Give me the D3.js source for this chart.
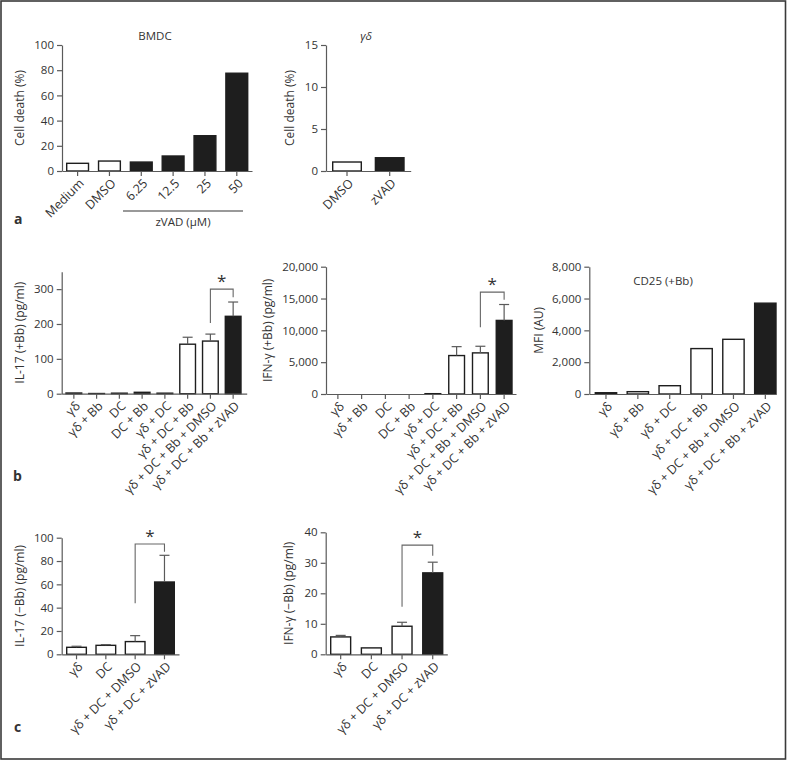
<!DOCTYPE html>
<html>
<head>
<meta charset="utf-8">
<script src="https://cdn.jsdelivr.net/npm/d3@7"></script>
<style>
  html, body { margin: 0; padding: 0; background: #fff; }
  svg { display: block; }
  text { font-family: "Open Sans", "Noto Sans", sans-serif; fill: #333; }
</style>
</head>
<body>
<svg id="chart" width="787" height="761"></svg>
<script>
// ---------------- DATA ----------------
// Panel a (left): BMDC cell death
const bmdcCategories = ["Medium", "DMSO", "6.25", "12.5", "25", "50"];
const bmdcValues = [6.1, 7.9, 7.1, 11.9, 28, 77.6];
const bmdcZvad = [false, false, true, true, true, true];
const bmdcTicks = [0, 20, 40, 60, 80, 100];

// Panel a (right): γδ cell death
const gdCategories = ["DMSO", "zVAD"];
const gdValues = [1.07, 1.58];
const gdZvad = [false, true];
const gdTicks = [0, 5, 10, 15];

// Panel b: +Bb stimulations
const bbCategories = ["γδ", "γδ + Bb", "DC", "DC + Bb", "γδ + DC", "γδ + DC + Bb",
  "γδ + DC + Bb + DMSO", "γδ + DC + Bb + zVAD"];
const bbZvad = [false, false, false, false, false, false, false, true];
const il17BbValues = [2, 0.5, 1.5, 4, 1.5, 142, 151, 222];
const il17BbErrors = [0, 0, 0, 0, 0, 20, 20, 41];
const il17BbTicks = [0, 100, 200, 300];
const ifngBbValues = [0, 0, 0, 0, 50, 6040, 6460, 11560];
const ifngBbErrors = [0, 0, 0, 0, 0, 1400, 1040, 2500];
const ifngBbTicks = [0, 5000, 10000, 15000, 20000];

const cd25Categories = ["γδ", "γδ + Bb", "γδ + DC", "γδ + DC + Bb",
  "γδ + DC + Bb + DMSO", "γδ + DC + Bb + zVAD"];
const cd25Values = [80, 146, 521, 2854, 3437, 5708];
const cd25Zvad = [false, false, false, false, false, true];
const cd25Ticks = [0, 2000, 4000, 6000, 8000];

// Panel c: −Bb stimulations
const noBbCategories = ["γδ", "DC", "γδ + DC + DMSO", "γδ + DC + zVAD"];
const noBbZvad = [false, false, false, true];
const il17NoBbValues = [6, 7.7, 10.9, 62];
const il17NoBbErrors = [0.9, 0.6, 5.1, 22.9];
const il17NoBbTicks = [0, 20, 40, 60, 80, 100];
const ifngNoBbValues = [5.7, 2.1, 9.2, 26.7];
const ifngNoBbErrors = [0.5, 0, 1.3, 3.5];
const ifngNoBbTicks = [0, 10, 20, 30, 40];

// significance brackets: [fromIndex, toIndex, leftArmEnd, top, rightArmEnd] in data units
const il17BbSig = [6, 7, 203, 300, 277];
const ifngBbSig = [6, 7, 10500, 16000, 14800];
const il17NoBbSig = [2, 3, 43.7, 94.6, 88];
const ifngNoBbSig = [2, 3, 15.6, 35.8, 32.3];

// ---------------- DRAW ----------------
const svg = d3.select("#chart");
const INK = "#1e1e1e";
const AXIS = "#5a5a5a";

// outer frame
svg.append("rect").attr("x", 1).attr("y", 1).attr("width", 784.5).attr("height", 758)
  .attr("fill", "none").attr("stroke", "#3a3a3a").attr("stroke-width", 1.6);

function panel(o) {
  const n = o.categories.length;
  const step = (o.x1 - o.x0 - o.L - o.R) / (n - o.pi);
  const x = d3.scaleBand().domain(o.categories).range([o.x0, o.x1])
    .paddingInner(o.pi).paddingOuter((o.L + o.R) / 2 / step)
    .align(o.L + o.R === 0 ? 0.5 : o.L / (o.L + o.R));
  const y = d3.scaleLinear().domain([0, o.max]).range([o.y0, o.yTop]);
  const g = svg.append("g");

  // bars
  g.selectAll("rect.bar").data(o.values).join("rect")
    .attr("class", "bar")
    .attr("x", (d, i) => x(o.categories[i]))
    .attr("width", x.bandwidth())
    .attr("y", d => y(d))
    .attr("height", d => Math.max(0, y(0) - y(d)))
    .attr("fill", (d, i) => o.zvad[i] ? INK : "#fff")
    .attr("stroke", INK).attr("stroke-width", 1.4);

  // error bars (upper only)
  if (o.errors) {
    o.values.forEach((v, i) => {
      const e = o.errors[i];
      if (!e) return;
      const cx = x(o.categories[i]) + x.bandwidth() / 2;
      g.append("line").attr("x1", cx).attr("x2", cx).attr("y1", y(v)).attr("y2", y(v + e))
        .attr("stroke", AXIS).attr("stroke-width", 1.2);
      g.append("line").attr("x1", cx - 5).attr("x2", cx + 5).attr("y1", y(v + e)).attr("y2", y(v + e))
        .attr("stroke", AXIS).attr("stroke-width", 1.2);
    });
  }

  // y axis
  const ya = g.append("g").attr("transform", `translate(${o.x0},0)`)
    .call(d3.axisLeft(y).tickValues(o.ticks).tickSize(5).tickSizeOuter(0).tickPadding(3)
      .tickFormat(o.fmt || d3.format("d")));
  ya.select(".domain").attr("stroke", AXIS).attr("stroke-width", 1.2);
  ya.selectAll(".tick line").attr("stroke", AXIS).attr("stroke-width", 1.2);
  ya.selectAll(".tick text").attr("font-size", 11.5).attr("fill", "#333")
    .style("font-family", '"Open Sans", sans-serif');

  // x axis
  const xa = g.append("g").attr("transform", `translate(0,${o.y0})`)
    .call(d3.axisBottom(x).tickSize(5).tickSizeOuter(0).tickFormat(""));
  xa.select(".domain").attr("stroke", AXIS).attr("stroke-width", 1.2);
  xa.selectAll(".tick line").attr("stroke", AXIS).attr("stroke-width", 1.2);

  // rotated category labels
  o.categories.forEach(c => {
    const cx = x(c) + x.bandwidth() / 2;
    g.append("text")
      .attr("transform", `translate(${cx + 4},${o.y0 + 10}) rotate(-45)`)
      .attr("text-anchor", "end").attr("dy", "0.35em")
      .attr("font-size", 12.5).text(c);
  });

  // y label
  g.append("text")
    .attr("transform", `translate(${o.labelX},${(o.y0 + o.yTop) / 2}) rotate(-90)`)
    .attr("text-anchor", "middle").attr("dy", "0.35em")
    .attr("font-size", 12).text(o.yLabel);

  // significance bracket
  if (o.sig) {
    const [a, b, l, t, r] = o.sig;
    const xa1 = x(o.categories[a]) + x.bandwidth() / 2;
    const xb1 = x(o.categories[b]) + x.bandwidth() / 2;
    g.append("path")
      .attr("d", `M${xa1},${y(l)}V${y(t)}H${xb1}V${y(r)}`)
      .attr("fill", "none").attr("stroke", "#666").attr("stroke-width", 1.1);
    g.append("text").attr("x", (xa1 + xb1) / 2).attr("y", y(t) - 2)
      .attr("text-anchor", "middle").attr("font-size", 17).text("*");
  }

  // title
  if (o.title) {
    g.append("text").attr("x", o.titleX).attr("y", o.titleY)
      .attr("text-anchor", "middle").attr("font-size", 11.5)
      .attr("font-style", o.titleItalic ? "italic" : "normal").text(o.title);
  }
  return { x, y };
}

panel({ categories: bmdcCategories, values: bmdcValues, zvad: bmdcZvad, ticks: bmdcTicks,
  max: 100, x0: 62, x1: 252, L: 4.7, R: 4.3, pi: 0.315, y0: 171, yTop: 45,
  labelX: 20, yLabel: "Cell death (%)", title: "BMDC", titleX: 155, titleY: 40 });

panel({ categories: gdCategories, values: gdValues, zvad: gdZvad, ticks: gdTicks,
  max: 15, x0: 326, x1: 410.7, L: 6.7, R: 6.7, pi: 0.33, y0: 171, yTop: 45,
  labelX: 290, yLabel: "Cell death (%)", title: "γδ", titleX: 366, titleY: 40, titleItalic: true });

// zVAD concentration bracket
svg.append("line").attr("x1", 123).attr("x2", 243).attr("y1", 211).attr("y2", 211)
  .attr("stroke", "#777").attr("stroke-width", 1.5);
svg.append("text").attr("x", 183).attr("y", 226).attr("text-anchor", "middle")
  .attr("font-size", 11.5).text("zVAD (μM)");

panel({ categories: bbCategories, values: il17BbValues, errors: il17BbErrors, zvad: bbZvad,
  ticks: il17BbTicks, max: 350, x0: 61.7, x1: 246.7, L: 4.3, R: 5.7, pi: 0.31,
  y0: 393.7, yTop: 271.7, labelX: 20, yLabel: "IL-17 (+Bb) (pg/ml)", sig: il17BbSig });

panel({ categories: bbCategories, values: ifngBbValues, errors: ifngBbErrors, zvad: bbZvad,
  ticks: ifngBbTicks, max: 20000, fmt: d3.format(","), x0: 326, x1: 516, L: 4, R: 4, pi: 0.337,
  y0: 394, yTop: 266.7, labelX: 268, yLabel: "IFN-γ (+Bb) (pg/ml)", sig: ifngBbSig });

panel({ categories: cd25Categories, values: cd25Values, zvad: cd25Zvad,
  ticks: cd25Ticks, max: 8000, fmt: d3.format(","), x0: 589.3, x1: 776, L: 6, R: 0, pi: 0.33,
  y0: 394, yTop: 266.7, labelX: 539, yLabel: "MFI (AU)",
  title: "CD25 (+Bb)", titleX: 663, titleY: 285 });

panel({ categories: noBbCategories, values: il17NoBbValues, errors: il17NoBbErrors, zvad: noBbZvad,
  ticks: il17NoBbTicks, max: 100, x0: 61.7, x1: 179, L: 5, R: 4.7, pi: 0.33,
  y0: 654.3, yTop: 537.7, labelX: 20, yLabel: "IL-17 (−Bb) (pg/ml)", sig: il17NoBbSig });

panel({ categories: noBbCategories, values: ifngNoBbValues, errors: ifngNoBbErrors, zvad: noBbZvad,
  ticks: ifngNoBbTicks, max: 40, x0: 325.7, x1: 447.3, L: 5, R: 4.6, pi: 0.35,
  y0: 654.3, yTop: 532.3, labelX: 289, yLabel: "IFN-γ (−Bb) (pg/ml)", sig: ifngNoBbSig });

// panel letters
[["a", 14, 224], ["b", 13, 481], ["c", 14, 732]].forEach(([t, lx, ly]) => {
  svg.append("text").attr("x", lx).attr("y", ly).attr("font-size", 14)
    .attr("font-weight", "bold").attr("fill", "#222").text(t);
});
</script>
</body>
</html>
